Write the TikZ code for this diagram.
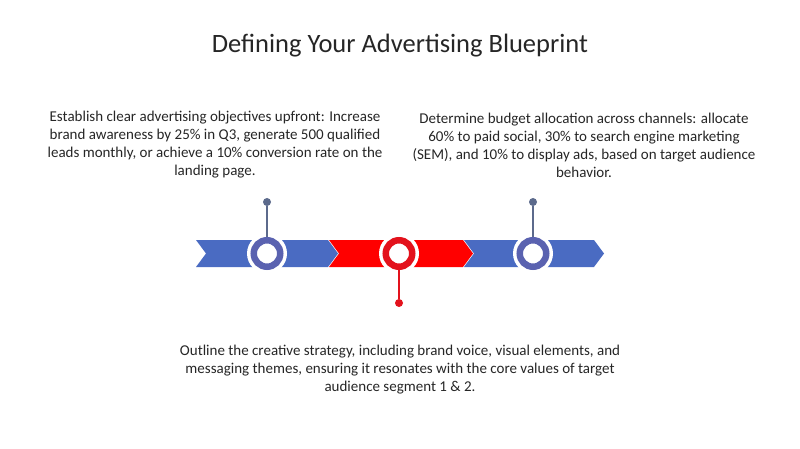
\documentclass[tikz,border=0pt]{standalone}
\usepackage{fontspec}
\setmainfont{Carlito}
\usetikzlibrary{positioning}

\definecolor{bandblue}{HTML}{4A6BC2}
\definecolor{ringblue}{HTML}{5A62B0}
\definecolor{bandred}{HTML}{FF0000}
\definecolor{ringred}{HTML}{E3121C}
\definecolor{stemgray}{HTML}{5C6A8C}
\definecolor{textgray}{HTML}{262626}

\begin{document}
\begin{tikzpicture}
[x=1pt,y=-1pt,
 every node/.style={text=textgray,font=\fontsize{15}{18}\selectfont,align=center},
 halo/.style={circle,fill=white,minimum size=40pt,inner sep=0pt},
 ring/.style={circle,fill=white,line width=6.5pt,minimum size=26.5pt,inner sep=0pt},
 dot/.style={circle,minimum size=8pt,inner sep=0pt}]

\useasboundingbox[fill=white] (0,0) rectangle (800,449);

% title
\node[font=\fontsize{26.5}{30}\selectfont] (title) at (400,46) {Defining Your Advertising Blueprint};

% the three chevron segments
\fill[bandblue] (196,240) -- (328,240) -- (338,253.5) -- (328,267) -- (196,267) -- (206,253.5) -- cycle;
\fill[bandred] (329,240) -- (463,240) -- (473,253.5) -- (463,267) -- (329,267) -- (339,253.5) -- cycle;
\fill[bandblue] (464,240) -- (594,240) -- (604,253.5) -- (594,267) -- (464,267) -- (474,253.5) -- cycle;

% markers on the band
\node[halo] (h1) at (267,253.5) {};
\node[halo] (h2) at (399,253.5) {};
\node[halo] (h3) at (533,253.5) {};

\node[ring,draw=ringblue] (c1) at (267,253.5) {};
\node[ring,draw=ringred] (c2) at (399,253.5) {};
\node[ring,draw=ringblue] (c3) at (533,253.5) {};

% stems with end dots
\node[dot,fill=stemgray] (d1) at (267,202) {};
\node[dot,fill=stemgray] (d3) at (533,202) {};
\node[dot,fill=ringred] (d2) at (399,303) {};

\draw[stemgray,line width=1.6pt] (d1) -- (c1);
\draw[stemgray,line width=1.6pt] (d3) -- (c3);
\draw[ringred,line width=1.6pt] (c2) -- (d2);

% texts
\node (t1) at (215,145) {Establish clear advertising objectives upfront: Increase\\
brand awareness by 25\% in Q3, generate 500 qualified\\
leads monthly, or achieve a 10\% conversion rate on the\\
landing page.};

\node (t3) at (584,145) {Determine budget allocation across channels: allocate\\
60\% to paid social, 30\% to search engine marketing\\
(SEM), and 10\% to display ads, based on target audience\\
behavior.};

\node (t2) at (400,370) {Outline the creative strategy, including brand voice, visual elements, and\\
messaging themes, ensuring it resonates with the core values of target\\
audience segment 1 \& 2.};

\end{tikzpicture}
\end{document}
